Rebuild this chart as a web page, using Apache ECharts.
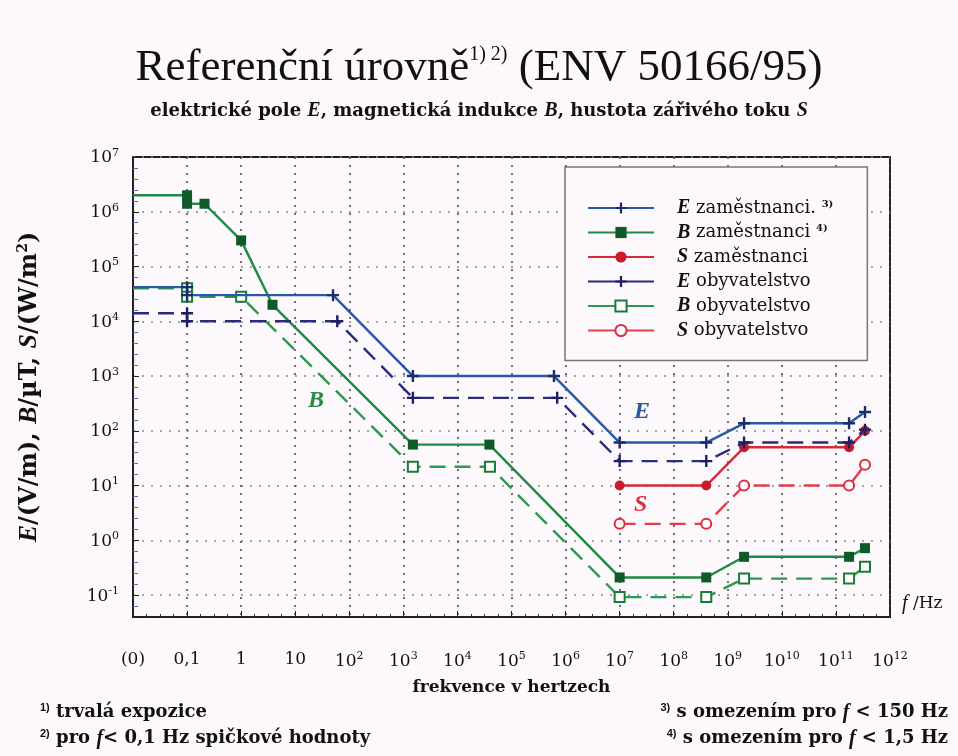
<!DOCTYPE html>
<html>
<head>
<meta charset="utf-8">
<script src="https://cdn.jsdelivr.net/npm/echarts@6/dist/echarts.min.js"></script>
<style>
html,body{margin:0;padding:0;background:#fcf8fb;}
#chart{width:958px;height:756px;}
</style>
</head>
<body>
<div id="chart"></div>
<script>
// frekvence v Hz, 0 = bod "(0)" na levem okraji osy
var ZERO_POS = 0.01;
var xTicks = [-2,-1,0,1,2,3,4,5,6,7,8,9,10,11,12];
var yTicks = [-1,0,1,2,3,4,5,6,7];

// E zamestnanci (V/m)
var eWorkF = [0, 0.1, 0.1, 50, 1500, 6.1e5, 1e7, 4e8, 2e9, 1.75e11, 3.45e11];
var eWorkV = [42000, 42000, 30000, 30000, 1000, 1000, 61, 61, 137, 137, 220];
// B zamestnanci (uT)
var bWorkF = [0, 0.1, 0.1, 0.21, 1, 3.8, 1500, 3.9e4, 1e7, 4e8, 2e9, 1.75e11, 3.45e11];
var bWorkV = [2e6, 2e6, 1.4e6, 1.4e6, 3e5, 2e4, 56, 56, 0.21, 0.21, 0.5, 0.5, 0.72];
// S zamestnanci (W/m2)
var sWorkF = [1e7, 4e8, 2e9, 1.75e11, 3.45e11];
var sWorkV = [10, 10, 50, 50, 100];
// E obyvatelstvo
var ePubF = [0, 0.1, 0.1, 60, 1500, 7e5, 1e7, 4e8, 2e9, 1.75e11, 3.45e11];
var ePubV = [14000, 14000, 10000, 10000, 400, 400, 28, 28, 61, 61, 105];
// B obyvatelstvo
var bPubF = [0, 0.1, 0.1, 1, 1500, 4e4, 1e7, 4e8, 2e9, 1.75e11, 3.45e11];
var bPubV = [4e4, 4e4, 2.8e4, 2.8e4, 22, 22, 0.092, 0.092, 0.2, 0.2, 0.33];
// S obyvatelstvo
var sPubF = [1e7, 4e8, 2e9, 1.75e11, 3.45e11];
var sPubV = [2, 2, 10, 10, 24];

var PLUS = 'path://M4,0L6,0L6,4L10,4L10,6L6,6L6,10L4,10L4,6L0,6L0,4L4,4Z';
var SERIF = 'DejaVu Serif';

function toData(f, v){
    var out = [];
    for(var i=0;i<f.length;i++){
        var item = {value:[Math.log10(f[i]===0 ? ZERO_POS : f[i]), Math.log10(v[i])]};
        if(f[i]===0){ item.symbol = 'none'; }
        out.push(item);
    }
    return out;
}

var sup = {fontSize:11, verticalAlign:'top', lineHeight:19, fontFamily:SERIF, color:'#111'};

function xLabel(v){
    var n = Math.round(v);
    if(Math.abs(v-n)>1e-6) return '';
    if(n===-2) return '(0)';
    if(n===-1) return '0,1';
    if(n===0) return '1';
    if(n===1) return '10';
    return '{b|10}{s|'+n+'}';
}
function yLabel(v){
    var n = Math.round(v);
    if(Math.abs(v-n)>1e-6) return '';
    return '{b|10}{s|'+n+'}';
}

var legendNames = {
    'E zaměstnanci':'{i|E} zaměstnanci. {s|3)}',
    'B zaměstnanci':'{i|B} zaměstnanci {s|4)}',
    'S zaměstnanci':'{i|S} zaměstnanci',
    'E obyvatelstvo':'{i|E} obyvatelstvo',
    'B obyvatelstvo':'{i|B} obyvatelstvo',
    'S obyvatelstvo':'{i|S} obyvatelstvo'
};

function noteStyle(txt){
    return {text:txt, fontFamily:SERIF, fontSize:18, fontWeight:'bold', fill:'#111',
        rich:{s:{fontSize:11, verticalAlign:'top', lineHeight:21, fontWeight:'bold', fill:'#111'},
              i:{fontStyle:'italic', fontWeight:'bold', fontFamily:'Liberation Serif', fontSize:20, fill:'#111'}}};
}

var chart = echarts.init(document.getElementById('chart'));
var option = {
    backgroundColor:'#fcf8fb',
    animation:false,
    title:[{
        text:'Referenční úrovně{s|1) 2)} (ENV 50166/95)',
        left:'center', top:40,
        textStyle:{fontFamily:'Liberation Serif', fontSize:45, fontWeight:'normal', color:'#111',
            rich:{s:{fontSize:20, verticalAlign:'top', lineHeight:46, fontFamily:'Liberation Serif', color:'#111'}}}
    },{
        text:'elektrické pole {i|E}, magnetická indukce {i|B}, hustota zářivého toku {i|S}',
        left:'center', top:96,
        textStyle:{fontFamily:SERIF, fontSize:18, fontWeight:'bold', color:'#111',
            rich:{i:{fontStyle:'italic', fontWeight:'bold', fontFamily:'Liberation Serif', fontSize:20, color:'#111'}}}
    }],
    grid:{left:133, right:68, top:157, bottom:139, show:true, borderColor:'#222', borderWidth:2},
    legend:{
        orient:'vertical', left:565, top:167,
        padding:[31, 34, 20, 22], itemGap:4.5, itemWidth:66, itemHeight:14,
        borderColor:'#777', borderWidth:1.5, backgroundColor:'#fcf8fb',
        lineStyle:{type:'solid'},
        formatter:function(name){ return legendNames[name]; },
        textStyle:{fontFamily:SERIF, fontSize:18, lineHeight:18, color:'#111',
            rich:{i:{fontStyle:'italic', fontWeight:'bold', fontFamily:'Liberation Serif', fontSize:20, lineHeight:18, padding:[0,0,0,18], color:'#111'},
                  s:{fontSize:10, verticalAlign:'top', lineHeight:18, fontWeight:'bold', color:'#111'}}}
    },
    xAxis:{
        type:'value', min:-2, max:12, interval:1,
        name:'frekvence v hertzech', nameLocation:'middle', nameGap:62,
        nameTextStyle:{fontFamily:SERIF, fontSize:17, fontWeight:'bold', color:'#111'},
        axisLine:{onZero:false, lineStyle:{color:'#222', width:2}},
        axisTick:{inside:true, length:6, lineStyle:{color:'#222'}},
        minorTick:{show:true, splitNumber:4, length:3, lineStyle:{color:'#333'}},
        axisLabel:{margin:34, formatter:xLabel, color:'#111', fontFamily:SERIF, fontSize:17,
            rich:{b:{fontSize:17, fontFamily:SERIF, verticalAlign:'bottom', lineHeight:19, color:'#111'}, s:sup}},
        splitLine:{show:true, lineStyle:{color:'#444', type:[2,6], width:1.5}}
    },
    yAxis:{
        type:'value', min:-1.4, max:7, splitNumber:8,
        name:'{i|E}/(V/m), {i|B}/µT, {i|S}/(W/m{s|2})', nameLocation:'middle', nameRotate:90, nameGap:90,
        nameTextStyle:{fontFamily:SERIF, fontSize:24, fontWeight:'bold', color:'#111',
            rich:{i:{fontStyle:'italic', fontWeight:'bold', fontFamily:'Liberation Serif', fontSize:26, color:'#111'},
                  s:{fontSize:14, verticalAlign:'top', lineHeight:27, fontWeight:'bold', color:'#111'}}},
        axisLine:{onZero:false, lineStyle:{color:'#222', width:2}},
        axisTick:{inside:true, length:6, lineStyle:{color:'#222'}},
        minorTick:{show:true, splitNumber:5, length:5, lineStyle:{color:'#5a6fb0'}},
        axisLabel:{margin:14, formatter:yLabel, color:'#111', fontFamily:SERIF, fontSize:17,
            rich:{b:{fontSize:17, fontFamily:SERIF, verticalAlign:'bottom', lineHeight:19, color:'#111'}, s:sup}},
        splitLine:{show:true, lineStyle:{color:'#8a8a8a', type:[2,7], width:1.5}}
    },
    graphic:[
        {type:'text', left:308, top:389, style:{text:'B', fontFamily:'Liberation Serif', fontSize:24, fontStyle:'italic', fontWeight:'bold', fill:'#2a8a45'}},
        {type:'text', left:634, top:400, style:{text:'E', fontFamily:'Liberation Serif', fontSize:24, fontStyle:'italic', fontWeight:'bold', fill:'#2a5aa0'}},
        {type:'text', left:634, top:493, style:{text:'S', fontFamily:'Liberation Serif', fontSize:24, fontStyle:'italic', fontWeight:'bold', fill:'#d83040'}},
        {type:'text', left:902, top:594, style:{text:'{i|f} /Hz', fontFamily:SERIF, fontSize:17, fill:'#111',
            rich:{i:{fontStyle:'italic', fontFamily:'Liberation Serif', fontSize:20, fill:'#111'}}}},
        {type:'text', left:40, top:702, style:noteStyle('{s|1)} trvalá expozice')},
        {type:'text', left:40, top:728, style:noteStyle('{s|2)} pro {i|f}< 0,1 Hz spičkové hodnoty')},
        {type:'text', right:10, top:702, style:noteStyle('{s|3)} s omezením pro {i|f} < 150 Hz')},
        {type:'text', right:10, top:728, style:noteStyle('{s|4)} s omezením pro {i|f} < 1,5 Hz')}
    ],
    series:[
        {name:'E zaměstnanci', type:'line', data:toData(eWorkF, eWorkV), symbol:PLUS, symbolSize:12, z:6,
            lineStyle:{color:'#2858a8', width:2.4}, itemStyle:{color:'#1d2c6a'}},
        {name:'B zaměstnanci', type:'line', data:toData(bWorkF, bWorkV), symbol:'rect', symbolSize:10, z:4,
            lineStyle:{color:'#1f8a45', width:2.4}, itemStyle:{color:'#0f5a28'}},
        {name:'S zaměstnanci', type:'line', data:toData(sWorkF, sWorkV), symbol:'circle', symbolSize:10, z:3,
            lineStyle:{color:'#d42a3a', width:2.4}, itemStyle:{color:'#c81c2c'}},
        {name:'E obyvatelstvo', type:'line', data:toData(ePubF, ePubV), symbol:PLUS, symbolSize:12, z:5,
            lineStyle:{color:'#2a2c7a', width:2.4, type:[16,9]}, itemStyle:{color:'#1d2060'}},
        {name:'B obyvatelstvo', type:'line', data:toData(bPubF, bPubV), symbol:'emptyRect', symbolSize:10, z:4,
            lineStyle:{color:'#2a9a50', width:2.4, type:[16,9]}, itemStyle:{color:'#1f7a3a', borderWidth:2}},
        {name:'S obyvatelstvo', type:'line', data:toData(sPubF, sPubV), symbol:'emptyCircle', symbolSize:10, z:3,
            lineStyle:{color:'#e0404c', width:2.4, type:[16,9]}, itemStyle:{color:'#d83040', borderWidth:2}}
    ]
};
chart.setOption(option);
</script>
</body>
</html>
